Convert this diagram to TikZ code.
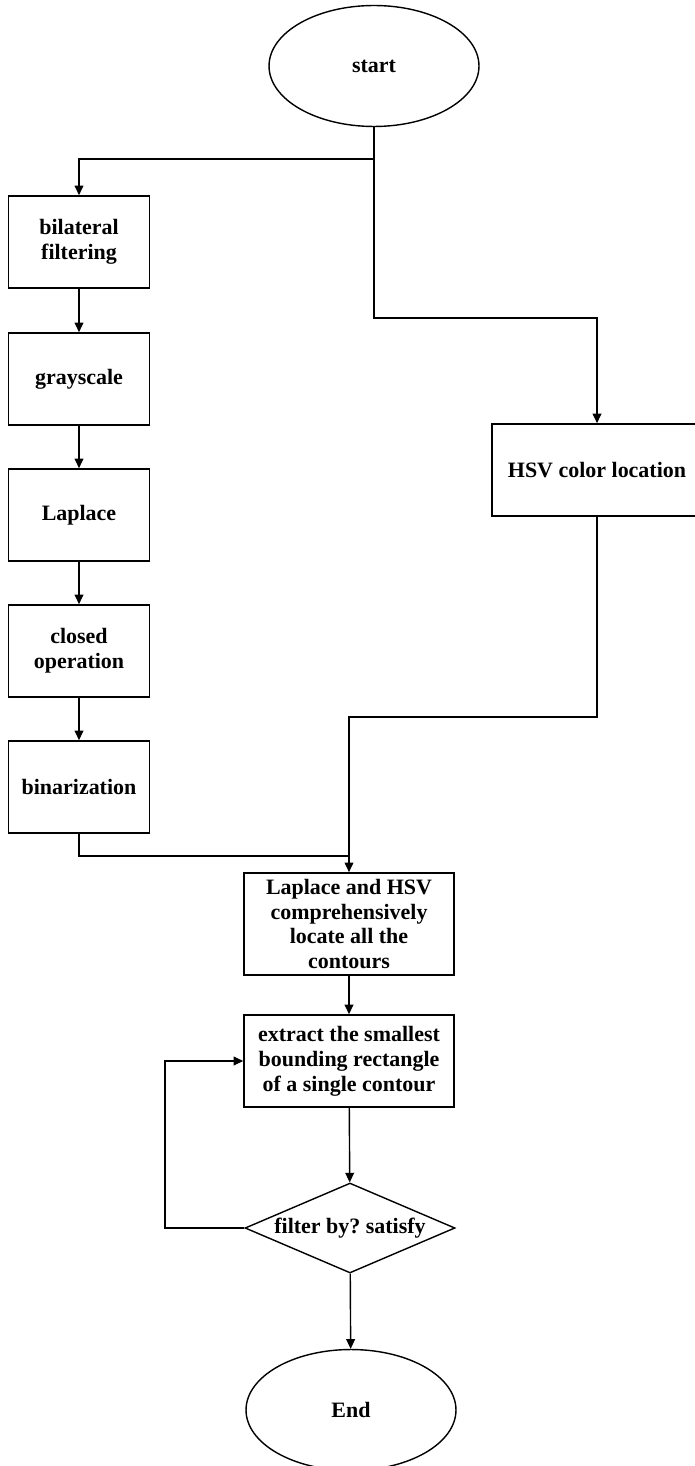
\documentclass[tikz,border=0pt]{standalone}
\usepackage{fontspec}
\setmainfont{Liberation Serif}
\usetikzlibrary{arrows.meta,shapes.geometric}
\tikzset{
  stepbox/.style={draw, rectangle, line width=0.9pt, minimum width=2.82cm, minimum height=1.84cm, align=center, font=\fontsize{12.5}{14.2}\selectfont\bfseries\frenchspacing},
  widebox/.style={stepbox, minimum width=4.2cm},
  terminal/.style={draw, ellipse, line width=0.8pt, minimum width=4.2cm, minimum height=2.42cm, font=\fontsize{12.5}{14.2}\selectfont\bfseries},
  decision/.style={draw, diamond, line width=0.8pt, inner sep=0pt, aspect=2.33, minimum width=4.2cm, minimum height=1.8cm, font=\fontsize{12.5}{14.2}\selectfont\bfseries\frenchspacing}
}
\begin{document}
\begin{tikzpicture}[x=0.02cm, y=-0.02cm, >={Triangle[length=5.5pt,width=5pt]}, line width=0.8pt]
\useasboundingbox (0,0) rectangle (695,1466);

\node[terminal] (start) at (374,66) {start};

% left branch
\node[stepbox] (bil) at (79,242) {bilateral\\filtering};
\node[stepbox] (gray) at (79,379) {grayscale};
\node[stepbox] (lap) at (79,515) {Laplace};
\node[stepbox] (clo) at (79,651) {closed\\operation};
\node[stepbox] (bin) at (79,787) {binarization};

% right branch
\node[widebox] (hsv) at (597,470) {HSV color location};

\node[widebox] (merge) at (349,924) {Laplace and HSV\\comprehensively\\locate all the\\contours};
\node[widebox] (ext) at (349,1061) {extract the smallest\\bounding rectangle\\of a single contour};
\node[decision] (dia) at (350,1228) {filter by? satisfy};
\node[terminal] (end) at (351,1410) {End};

\coordinate (split) at (374,159);
\coordinate (bend1) at (374,318);
\coordinate (bend2) at (349,717);
\coordinate (join) at (349,856);
\coordinate (loop) at (165,1228);

\draw (start) -- (split);
\draw[->] (split) -| (bil);
\draw[->] (split) -- (bend1) -| (hsv);

\draw[->] (bil) -- (gray);
\draw[->] (gray) -- (lap);
\draw[->] (lap) -- (clo);
\draw[->] (clo) -- (bin);

\draw (bin) |- (join);
\draw[->] (hsv) |- (bend2) -- (merge);

\draw[->] (merge) -- (ext);
\draw[->] (ext) -- (dia);
\draw[->] (dia) -- (loop) |- (ext);
\draw[->] (dia) -- (end);
\end{tikzpicture}
\end{document}
